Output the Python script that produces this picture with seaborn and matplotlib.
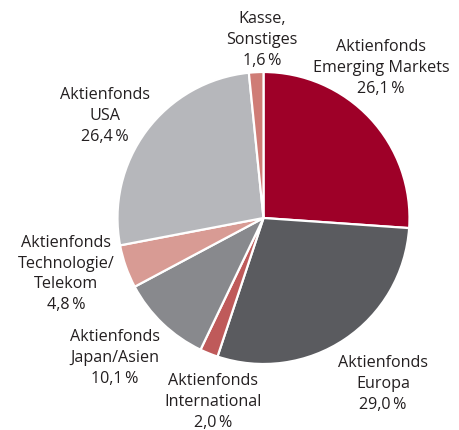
import matplotlib
matplotlib.use("Agg")
import matplotlib.pyplot as plt
import seaborn as sns

categories = ["Aktienfonds\nEmerging Markets", "Aktienfonds\nEuropa", "Aktienfonds\nInternational",
              "Aktienfonds\nJapan/Asien", "Aktienfonds\nTechnologie/\nTelekom", "Aktienfonds\nUSA",
              "Kasse,\nSonstiges"]
values = [26.1, 29.0, 2.0, 10.1, 4.8, 26.4, 1.6]
value_labels = ["26,1\u2009%", "29,0\u2009%", "2,0\u2009%", "10,1\u2009%", "4,8\u2009%", "26,4\u2009%", "1,6\u2009%"]
colors = ["#9E0028", "#5A5B5F", "#BF5A5A", "#88898D", "#D89B94", "#B6B7BB", "#CF7C76"]
# label centres in pixels (x, y from top)
label_px = [(381, 68), (383, 384), (213, 402), (115, 358), (66, 274), (105, 116), (262, 40)]

sns.set_theme(style="white")
plt.rcParams['font.family'] = ['Open Sans', 'DejaVu Sans']

W, H = 459, 430
cx, cy, R = 263.5, 218, 146
fig = plt.figure(figsize=(W / 100, H / 100), dpi=100)
ax = fig.add_axes([0, 0, 1, 1])
palette = sns.color_palette(colors)
ax.pie(values, colors=palette, startangle=90, counterclock=False,
       wedgeprops=dict(edgecolor="white", linewidth=1.6), radius=1)
ax.set_xlim(-cx / R, (W - cx) / R)
ax.set_ylim(-(H - cy) / R, cy / R)
ax.set_aspect("equal")
ax.axis("off")

for cat, vl, (px, py) in zip(categories, value_labels, label_px):
    ax.text((px - cx) / R, (cy - py) / R, cat + "\n" + vl, ha="center", va="center",
            fontsize=11.6, color="#231F20", linespacing=1.38,
            family=['Open Sans', 'DejaVu Sans'])

fig.savefig("out.png", dpi=100, facecolor="white")
